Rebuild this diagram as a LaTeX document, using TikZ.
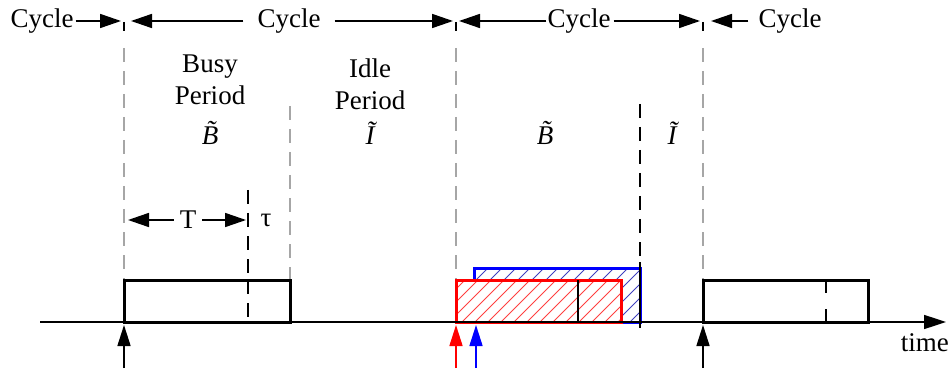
\documentclass[tikz,border=0pt]{standalone}
\usepackage{fontspec}
\setmainfont{Liberation Serif}
\usetikzlibrary{arrows.meta}
\begin{document}
\begin{tikzpicture}[x=1pt,y=-1pt,
  lbl/.style={inner sep=0pt,font=\fontsize{27}{32}\selectfont,align=center},
  bigarr/.style={line width=1.6pt,-{Triangle[length=21pt,width=14pt]}},
  guide/.style={gray!70,line width=1.4pt,dash pattern=on 14pt off 9pt},
  darkguide/.style={black,line width=1.4pt,dash pattern=on 14pt off 9pt},
  pulse/.style={line width=3pt},
  upar/.style={line width=1.6pt,-{Triangle[length=21pt,width=13pt]}},
  tick/.style={line width=1.4pt}]
\useasboundingbox (0,0) rectangle (949,371);
% coordinates
\coordinate (a0) at (40,322);
\coordinate (a1) at (946,322);
% guide lines
\draw[guide] (124,48) -- (124,322);
\draw[guide] (456,48) -- (456,322);
\draw[guide] (703,48) -- (703,322);
\draw[guide] (290,106) -- (290,280);
\draw[darkguide] (248,190) -- (248,280);
\draw[darkguide] (640,104) -- (640,268);
\draw[tick] (124,22) -- (124,31);
\draw[tick] (456,22) -- (456,31);
\draw[tick] (703,22) -- (703,31);
% top cycle labels
\node[lbl] (c0) at (42,21) {Cycle};
\node[lbl] (c1) at (289,21) {Cycle};
\node[lbl] (c2) at (579,21) {Cycle};
\node[lbl] (c3) at (790,21) {Cycle};
\coordinate (t0) at (121,21);
\coordinate (t1l) at (131,21);
\coordinate (t1r) at (453,21);
\coordinate (t2l) at (459,21);
\coordinate (t2r) at (700,21);
\coordinate (t3l) at (711,21);
\draw[bigarr] (c0.east) ++(2,0) -- (t0);
\draw[bigarr] (c1.west) ++(-14,0) -- (t1l);
\draw[bigarr] (c1.east) ++(14,0) -- (t1r);
\draw[bigarr] (c2.west) ++(-1,0) -- (t2l);
\draw[bigarr] (c2.east) ++(3,0) -- (t2r);
\draw[bigarr] (c3.west) ++(-10,0) -- (t3l);
% period labels
\node[lbl] (busy) at (210,80) {Busy\\Period};
\node[lbl] (b1) at (210,133) {\itshape\~{B}};
\node[lbl] (idle) at (370,84) {Idle\\Period};
\node[lbl] (i1) at (370,133) {\itshape\~{I}};
\node[lbl] (b2) at (545,133) {\itshape\~{B}};
\node[lbl] (i2) at (672,133) {\itshape\~{I}};
% T and tau
\node[lbl] (T) at (188,220) {T};
\node[lbl] (tau) at (266,220) {τ};
\coordinate (Tl) at (128,220);
\coordinate (Tr) at (246,220);
\draw[bigarr] (T.west) ++(-6,0) -- (Tl);
\draw[bigarr] (T.east) ++(6,0) -- (Tr);
% first pulse
\draw[pulse] (124,280) rectangle (290,322);
\draw[darkguide] (248,280) -- (248,322);
% blue pulse
\begin{scope}
\clip (474,268) rectangle (640,322);
\foreach \k in {0,...,20} {\draw[blue!50!gray,line width=1pt] (420+\k*14,322) -- (480+\k*14,262);}
\end{scope}
\draw[blue,pulse] (474,268) rectangle (640,322);
% red pulse
\fill[white] (456,280) rectangle (621,322);
\begin{scope}
\clip (456,280) rectangle (621,322);
\foreach \k in {0,...,18} {\draw[red!75,line width=1pt] (410+\k*13,322) -- (460+\k*13,272);}
\end{scope}
\draw[red,pulse] (456,280) rectangle (621,322);
\draw[line width=1.2pt] (578,280) -- (578,322);
\draw[line width=1.2pt] (640,262) -- (640,328);
% third pulse
\draw[pulse] (703,280) rectangle (868,322);
\draw[tick] (826,280) -- (826,293);
\draw[tick] (826,309) -- (826,322);
% time axis
\draw[line width=1.6pt,-{Triangle[length=22pt,width=14pt]}] (a0) -- (a1);
\node[lbl,anchor=north east] (time) at (949,333) {time};
% arrival arrows
\coordinate (u0) at (124,368);
\coordinate (u0t) at (124,325);
\coordinate (u1) at (456,368);
\coordinate (u1t) at (456,325);
\coordinate (u2) at (476,368);
\coordinate (u2t) at (476,325);
\coordinate (u3) at (703,368);
\coordinate (u3t) at (703,325);
\draw[upar] (u0) -- (u0t);
\draw[upar,red] (u1) -- (u1t);
\draw[upar,blue] (u2) -- (u2t);
\draw[upar] (u3) -- (u3t);
\end{tikzpicture}
\end{document}
